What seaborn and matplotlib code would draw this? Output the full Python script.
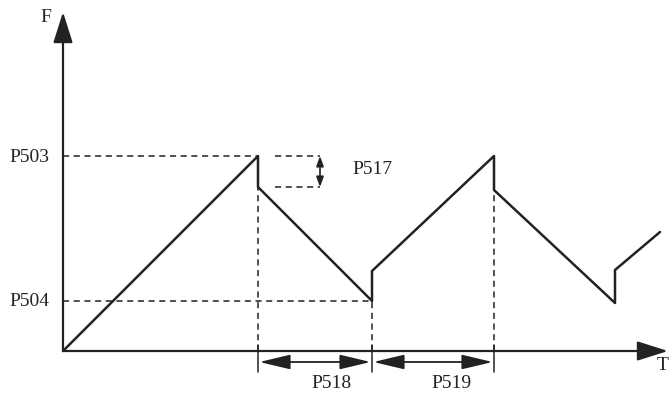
import numpy as np
import pandas as pd
import matplotlib.pyplot as plt
import seaborn as sns

# Sawtooth frequency curve (time, frequency), origin at axes corner
t_vals = [0, 195, 195, 309, 309, 431, 431, 552, 552, 597]
f_vals = [0, 195, 164, 50, 80, 195, 161, 48, 81, 119]
p503 = 195
p504 = 50
labels = ["P503", "P504", "P517", "P518", "P519"]

df = pd.DataFrame({"t": t_vals, "f": f_vals})

sns.set_style("white")
plt.rcParams['font.family'] = ['Liberation Serif', 'DejaVu Serif']

fig = plt.figure(figsize=(6.7, 3.93), dpi=100)
ax = fig.add_axes([0, 0, 1, 1])
ax.set_xlim(-63, 607)
ax.set_ylim(-42, 351)
ax.axis("off")

ink = "#222222"
fs = 14

# Curve
sns.lineplot(data=df, x="t", y="f", sort=False, estimator=None,
             color=ink, linewidth=1.8, ax=ax)

# Axes with arrows
arrow = dict(arrowstyle="-|>,head_length=1.9,head_width=0.6", color=ink,
             lw=1.6, shrinkA=0, shrinkB=0)
ax.annotate("", xy=(0, 339), xytext=(0, 0), arrowprops=arrow)
ax.annotate("", xy=(605, 0), xytext=(0, 0), arrowprops=arrow)
ax.text(-17, 333, "F", fontsize=fs, ha="center", va="center", color=ink)
ax.text(600, -15, "T", fontsize=fs, ha="center", va="center", color=ink)

# Dashed guides
dash = dict(color=ink, lw=1.1, linestyle=(0, (4, 3)))
ax.plot([0, t_vals[1]], [p503, p503], **dash)
ax.plot([0, t_vals[3]], [p504, p504], **dash)
ax.plot([t_vals[1], t_vals[1]], [0, p503], **dash)
ax.plot([t_vals[3], t_vals[3]], [0, p504], **dash)
ax.plot([t_vals[5], t_vals[5]], [0, p503], **dash)

# P503 / P504 labels
ax.text(-34, p503 - 2, labels[0], fontsize=fs, ha="center", va="center", color=ink)
ax.text(-34, p504 - 1, labels[1], fontsize=fs, ha="center", va="center", color=ink)

# P517 drop indicator
ax.plot([212, 257], [p503, p503], **dash)
ax.plot([212, 257], [f_vals[2], f_vals[2]], **dash)
dbl = dict(arrowstyle="<|-|>,head_length=0.6,head_width=0.22", color=ink,
           lw=1.2, shrinkA=0, shrinkB=0)
ax.annotate("", xy=(257, p503), xytext=(257, f_vals[2]), arrowprops=dbl)
ax.text(309, 181, labels[2], fontsize=fs, ha="center", va="center", color=ink)

# P518 / P519 dimension arrows
for x in [t_vals[1], t_vals[3], t_vals[5]]:
    ax.plot([x, x], [6, -21], color=ink, lw=1.1)
dim = dict(arrowstyle="<|-|>,head_length=1.9,head_width=0.45", color=ink,
           lw=1.3, shrinkA=1, shrinkB=1)
ax.annotate("", xy=(t_vals[1], -11), xytext=(t_vals[3], -11), arrowprops=dim)
ax.annotate("", xy=(t_vals[3], -11), xytext=(t_vals[5], -11), arrowprops=dim)
ax.text(268, -32, labels[3], fontsize=fs, ha="center", va="center", color=ink)
ax.text(388, -32, labels[4], fontsize=fs, ha="center", va="center", color=ink)

fig.savefig("out.png", dpi=100, facecolor="white")
